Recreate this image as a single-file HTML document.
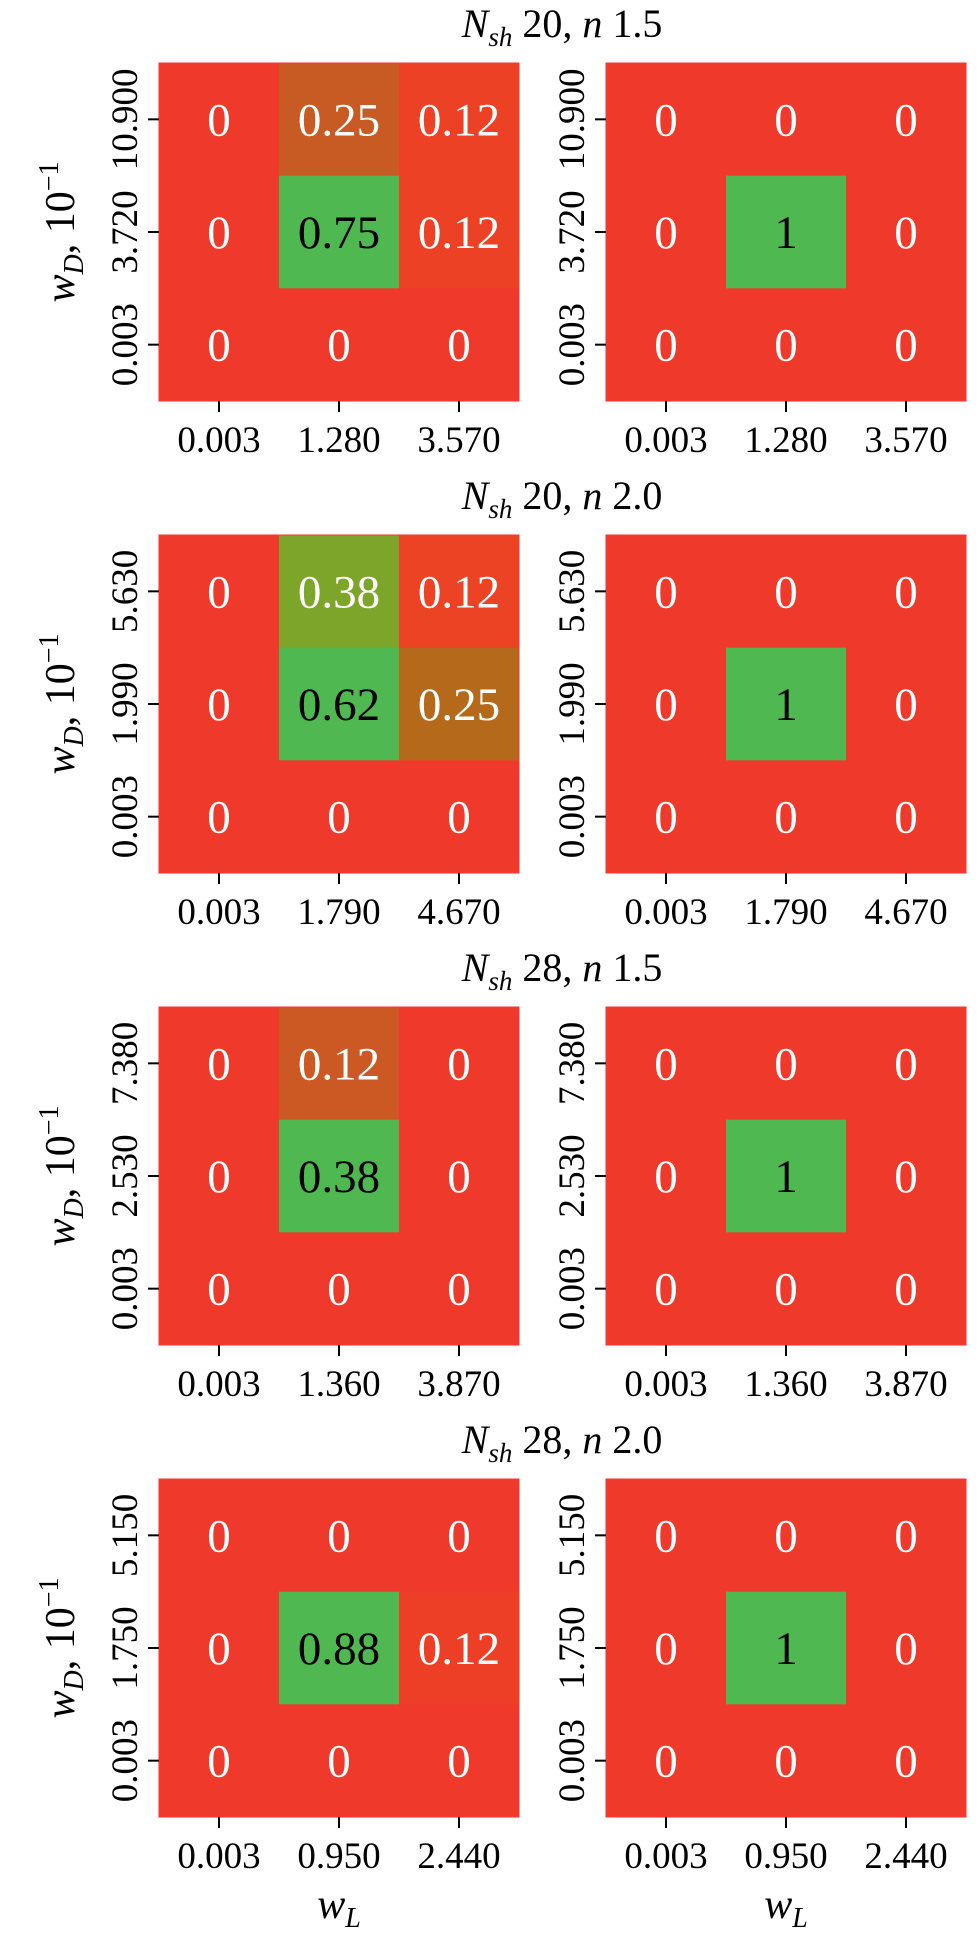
<!DOCTYPE html>
<html><head><meta charset="utf-8"><style>
html,body{margin:0;padding:0;background:#fff;}
svg{display:block;}
svg text{font-family:"Liberation Serif","Times New Roman","DejaVu Serif",serif;}
</style></head><body>
<svg id="c" width="980" height="1939" viewBox="0 0 980 1939" font-family="Liberation Serif, Times New Roman, serif"></svg>
<script>
const titlesN = ["20","20","28","28"];
const titlesn = ["1.5","2.0","1.5","2.0"];
const yTicks = [["10.900","3.720","0.003"],["5.630","1.990","0.003"],["7.380","2.530","0.003"],["5.150","1.750","0.003"]];
const xTicks = [["0.003","1.280","3.570"],["0.003","1.790","4.670"],["0.003","1.360","3.870"],["0.003","0.950","2.440"]];
const leftValues = [
 [[0,0.25,0.12],[0,0.75,0.12],[0,0,0]],
 [[0,0.38,0.12],[0,0.62,0.25],[0,0,0]],
 [[0,0.12,0],[0,0.38,0],[0,0,0]],
 [[0,0,0],[0,0.88,0.12],[0,0,0]]
];
const rightValues = [
 [[0,0,0],[0,1,0],[0,0,0]],
 [[0,0,0],[0,1,0],[0,0,0]],
 [[0,0,0],[0,1,0],[0,0,0]],
 [[0,0,0],[0,1,0],[0,0,0]]
];
const NS="http://www.w3.org/2000/svg";
const svg=document.getElementById('c');
const FF='"Liberation Serif","Times New Roman","DejaVu Serif",serif';
function mk(tag,attrs,parent){const e=document.createElementNS(NS,tag);for(const k in attrs)e.setAttribute(k,attrs[k]);if(tag==='text')e.style.fontFamily=FF;(parent||svg).appendChild(e);return e;}
const stops=[[0,[239,57,43]],[0.19,[236,66,36]],[0.33,[200,90,35]],[0.4,[182,104,27]],[0.61,[125,165,42]],[1,[80,184,80]]];
function color(t){for(let i=1;i<stops.length;i++){if(t<=stops[i][0]){const a=stops[i-1],b=stops[i];const f=(t-a[0])/(b[0]-a[0]);const c=a[1].map((v,j)=>Math.round(v+(b[1][j]-v)*f));return `rgb(${c})`;}}return 'rgb(80,184,80)';}
const panelTop=r=>63+r*472;
const PW=360,PH=338,CW=120,CH=PH/3;
const xScale=(x0,i)=>x0+CW*(i+0.5);
const yScale=(y0,j)=>y0+CH*(j+0.5);
function panel(r,side,vals){
 const x0=side?606:159,y0=panelTop(r);
 const g=mk('g',{});
 
 
 let mx=0;vals.forEach(row=>row.forEach(v=>{if(v>mx)mx=v;}));
 vals.forEach((row,j)=>row.forEach((v,i)=>{
  const t=mx>0?v/mx:0;
  const rc=mk('rect',{x:x0+CW*i,y:y0+CH*j,width:CW+0.5,height:CH+0.5,fill:color(t)},g);
  
  
  const tx=mk('text',{x:xScale(x0,i),y:yScale(y0,j)+16,'text-anchor':'middle','font-size':47,fill:t>0.7?'#000':'#fff'},g);
  tx.textContent=String(v);
  
  
 }));
 mk('rect',{x:x0,y:y0,width:PW,height:PH,fill:'none',stroke:'#f33',"stroke-width":1},g);
 xTicks[r].forEach((l,i)=>{
  const x=xScale(x0,i);
  mk('line',{x1:x,x2:x,y1:y0+PH,y2:y0+PH+11,stroke:'#000','stroke-width':2},g);
  const t=mk('text',{x:x,y:y0+PH+51,'text-anchor':'middle','font-size':37},g);
  t.textContent=l;
  
  
 });
 yTicks[r].forEach((l,j)=>{
  const y=yScale(y0,j);
  mk('line',{x1:x0-11,x2:x0,y1:y,y2:y,stroke:'#000','stroke-width':2},g);
  const t=mk('text',{x:0,y:0,'text-anchor':'middle','font-size':37,transform:`translate(${x0-22},${y}) rotate(-90)`},g);
  t.textContent=l;
  
  
 });
}
for(let r=0;r<4;r++){
 const y0=panelTop(r);
 const tt=mk('text',{x:562,y:y0-26,'text-anchor':'middle','font-size':40});
 
 
 tt.innerHTML=`<tspan font-style="italic">N</tspan><tspan font-style="italic" font-size="27" dy="9">sh</tspan><tspan dy="-9"> ${titlesN[r]}, </tspan><tspan font-style="italic">n</tspan><tspan> ${titlesn[r]}</tspan>`;
 panel(r,0,leftValues[r]);
 panel(r,1,rightValues[r]);
 const yt=mk('text',{x:0,y:0,'text-anchor':'middle','font-size':42,transform:`translate(74,${y0+PH/2}) rotate(-90)`});
 
 
 yt.innerHTML=`<tspan font-style="italic">w</tspan><tspan font-style="italic" font-size="28" dy="9">D</tspan><tspan dy="-9">, 10</tspan><tspan font-size="28" dy="-16">−1</tspan>`;
}
[339,786].forEach(x=>{
 const t=mk('text',{x:x,y:1918,'text-anchor':'middle','font-size':42});
 
 
 t.innerHTML=`<tspan font-style="italic">w</tspan><tspan font-style="italic" font-size="28" dy="9">L</tspan>`;
});
</script>
</body></html>
